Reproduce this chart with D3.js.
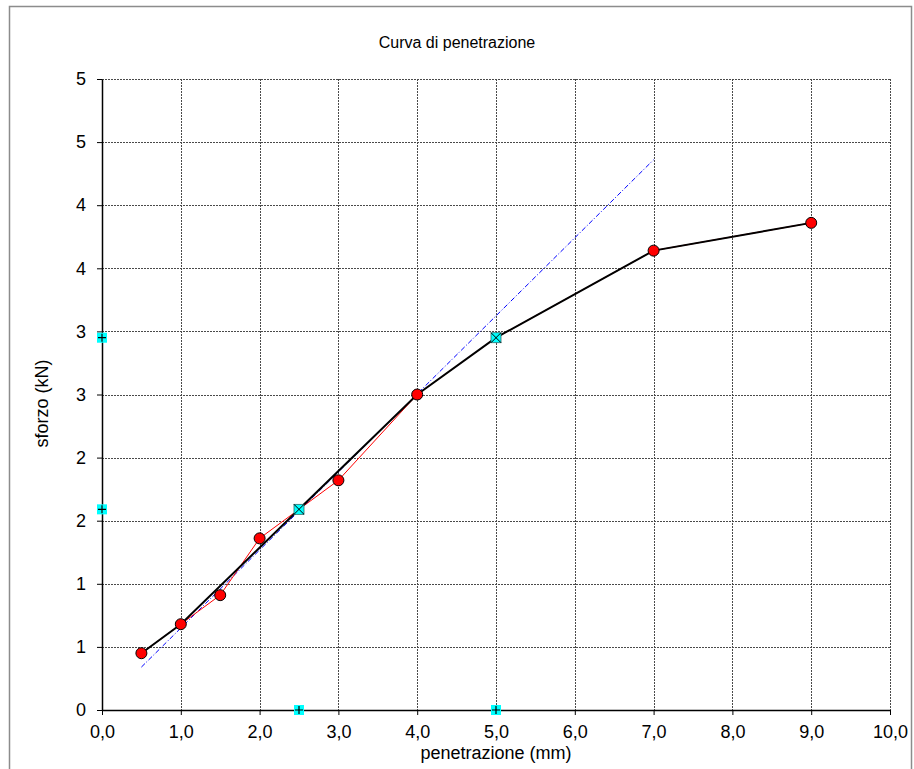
<!DOCTYPE html>
<html>
<head>
<meta charset="utf-8">
<script src="https://cdn.jsdelivr.net/npm/d3@7"></script>
<style>
  html, body { margin: 0; padding: 0; background: #fff; }
  svg { display: block; font-family: "Liberation Sans", Arial, sans-serif; }
</style>
</head>
<body>
<svg id="chart" width="914" height="769"></svg>
<script>
// Measured penetration test points (mm, kN)
const penetrazione = [0.5, 1.0, 1.5, 2.0, 3.0, 4.0, 7.0, 9.0];
const sforzo = [0.45, 0.68, 0.91, 1.36, 1.82, 2.50, 3.64, 3.86];

// Reference penetrations and the loads read on the corrected curve
const penStandard = [2.5, 5.0];
const sforzoStandard = [1.59, 2.95];

// Corrected curve
const penCorretta = [0.5, 1.0, 2.5, 4.0, 5.0, 7.0, 9.0];
const sforzoCorretta = [0.45, 0.68, 1.59, 2.50, 2.95, 3.64, 3.86];

// Tangent line
const penTangente = [0.5, 7.0];
const sforzoTangente = [0.34, 4.36];

// Axis ticks
const xTicks = [0, 1, 2, 3, 4, 5, 6, 7, 8, 9, 10];
const yTicks = [0, 0.5, 1, 1.5, 2, 2.5, 3, 3.5, 4, 4.5, 5];

const W = 914, H = 769;
const margin = { top: 79, right: 24, bottom: 59, left: 102 };
const iw = W - margin.left - margin.right;
const ih = H - margin.top - margin.bottom;

const svg = d3.select("#chart");

// Chart frame
svg.append("rect")
  .attr("x", 9.5).attr("y", 6.5)
  .attr("width", 902).attr("height", 780)
  .attr("fill", "#fff").attr("stroke", "#8c8c8c").attr("stroke-width", 1.5);

const g = svg.append("g").attr("transform", `translate(${margin.left},${margin.top})`);

const x = d3.scaleLinear().domain([0, 10]).range([0, iw]);
const y = d3.scaleLinear().domain([0, 5]).range([ih, 0]);

// Grid
g.append("g").selectAll("line").data(yTicks.filter(d => d > 0)).join("line")
  .attr("x1", 0).attr("x2", iw)
  .attr("y1", d => Math.round(y(d)) + 0.5).attr("y2", d => Math.round(y(d)) + 0.5)
  .attr("stroke", "#4a4a4a").attr("stroke-width", 1).attr("stroke-dasharray", "2,1");
g.append("g").selectAll("line").data(xTicks.filter(d => d > 0)).join("line")
  .attr("y1", 0).attr("y2", ih)
  .attr("x1", d => Math.round(x(d)) + 0.5).attr("x2", d => Math.round(x(d)) + 0.5)
  .attr("stroke", "#4a4a4a").attr("stroke-width", 1).attr("stroke-dasharray", "2,1");

// Axes
const fmtX = d => d.toFixed(1).replace(".", ",");
const fmtY = d => String(Math.round(d));

const xAxis = g.append("g").attr("transform", `translate(0,${ih})`)
  .call(d3.axisBottom(x).tickValues(xTicks).tickFormat(fmtX).tickSize(5).tickPadding(10).tickSizeOuter(0));
const yAxis = g.append("g")
  .call(d3.axisLeft(y).tickValues(yTicks).tickFormat(fmtY).tickSize(5).tickPadding(11).tickSizeOuter(0));

[xAxis, yAxis].forEach(a => {
  a.select(".domain").attr("stroke", "#000").attr("stroke-width", 1.5);
  a.selectAll(".tick line").attr("stroke", "#000");
  a.selectAll(".tick text").attr("fill", "#000")
    .style("font-size", "18px").style("font-family", "'Liberation Sans', Arial, sans-serif");
});

// Tangent (blue dash-dot)
const pts = (xs, ys) => xs.map((v, i) => [v, ys[i]]);
const line = d3.line().x(d => x(d[0])).y(d => y(d[1]));

g.append("path").datum(pts(penTangente, sforzoTangente))
  .attr("d", line).attr("fill", "none")
  .attr("stroke", "#0000ff").attr("stroke-width", 1).attr("stroke-dasharray", "5,2,1,2");

// Measured curve (thin red), passing through the reference points
const misurati = pts(penetrazione, sforzo).concat(pts(penStandard, sforzoStandard))
  .sort((a, b) => a[0] - b[0]);
g.append("path").datum(misurati)
  .attr("d", line).attr("fill", "none")
  .attr("stroke", "#ff0000").attr("stroke-width", 1);

// Corrected curve (black)
g.append("path").datum(pts(penCorretta, sforzoCorretta))
  .attr("d", line).attr("fill", "none")
  .attr("stroke", "#000").attr("stroke-width", 2);

// Measured points
g.append("g").selectAll("circle").data(pts(penetrazione, sforzo)).join("circle")
  .attr("cx", d => x(d[0])).attr("cy", d => y(d[1])).attr("r", 5.5)
  .attr("fill", "#ff0000").attr("stroke", "#000").attr("stroke-width", 1);

// Reference points on the curve (cyan squares with a cross)
const std = pts(penStandard, sforzoStandard);
const sx = g.append("g").selectAll("g").data(std).join("g")
  .attr("transform", d => `translate(${x(d[0])},${y(d[1])})`);
sx.append("rect").attr("x", -5).attr("y", -5).attr("width", 10).attr("height", 10)
  .attr("fill", "#00ffff").attr("stroke", "#2a6a6a").attr("stroke-width", 0.8);
sx.append("path").attr("d", "M-5,-5L5,5M-5,5L5,-5").attr("stroke", "#000").attr("stroke-width", 1);

// Projections of the reference points on both axes (cyan squares with a plus)
const proiezioni = std.map(d => [0, d[1]]).concat(std.map(d => [d[0], 0]));
const sp = g.append("g").selectAll("g").data(proiezioni).join("g")
  .attr("transform", d => `translate(${x(d[0])},${y(d[1])})`);
sp.append("rect").attr("x", -5).attr("y", -5).attr("width", 10).attr("height", 10)
  .attr("fill", "#00ffff");
sp.append("path").attr("d", "M-4,0L4,0M0,-4L0,4").attr("stroke", "#000").attr("stroke-width", 1.2);

// Titles
svg.append("text").attr("x", 457).attr("y", 48).attr("text-anchor", "middle")
  .style("font-size", "16px").text("Curva di penetrazione");
svg.append("text").attr("x", margin.left + iw / 2).attr("y", 759).attr("text-anchor", "middle")
  .style("font-size", "18px").text("penetrazione (mm)");
svg.append("text").attr("transform", `translate(48,${margin.top + ih / 2 + 9}) rotate(-90)`)
  .attr("text-anchor", "middle")
  .style("font-size", "18px").text("sforzo (kN)");
</script>
</body>
</html>
